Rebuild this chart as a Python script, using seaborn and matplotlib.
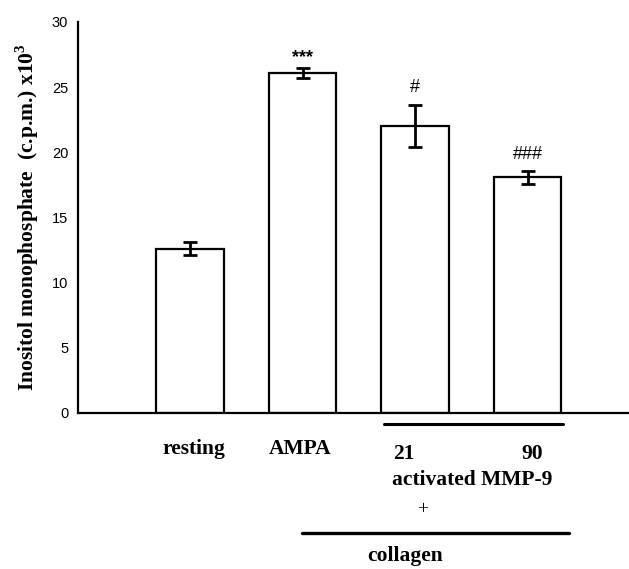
import matplotlib
matplotlib.use("Agg")
import matplotlib.pyplot as plt
import matplotlib.transforms as mtransforms
import seaborn as sns
import pandas as pd

categories = ["resting", "AMPA", "21", "90"]
values = [12.6, 26.1, 22.0, 18.1]
errors = [0.5, 0.4, 1.6, 0.5]
marks = ["", "***", "#", "###"]
mark_y = [0, 27.3, 25.0, 19.8]
yticks = [0, 5, 10, 15, 20, 25, 30]

sns.set_theme(style="white")
plt.rcParams["font.family"] = ["Liberation Sans", "DejaVu Sans"]
plt.rcParams["mathtext.fontset"] = "custom"
plt.rcParams["mathtext.rm"] = "Liberation Serif"
plt.rcParams["mathtext.bf"] = "Liberation Serif:bold"

df = pd.DataFrame({"group": categories, "value": values})

fig = plt.figure(figsize=(6.29, 5.69), dpi=100)
ax = fig.add_axes([0.124, 0.2742, 0.876, 0.6872])

sns.barplot(data=df, x="group", y="value", order=categories, color="white",
            edgecolor="black", linewidth=1.6, width=0.6, saturation=1,
            errorbar=None, ax=ax)
ax.errorbar(range(len(values)), values, yerr=errors, fmt="none",
            ecolor="black", elinewidth=2.0, capsize=4.7, capthick=2.0, zorder=5)

for i, (m, my) in enumerate(zip(marks, mark_y)):
    if m:
        ax.text(i, my, m, ha="center", va="center", fontsize=13,
                fontweight="bold" if m.startswith("*") else "normal",
                family=["Liberation Sans", "DejaVu Sans"], color="black")

ax.set_xlim(-0.996, 3.902)
ax.set_ylim(0, 30)
ax.set_yticks(yticks)
ax.set_yticklabels([str(t) for t in yticks], fontsize=10.5)
ax.tick_params(axis="y", direction="out", length=5, width=1.4, pad=2, colors="black")
ax.tick_params(axis="x", length=0, pad=19)
ax.set_xticks(range(len(categories)))
ax.set_xticklabels(categories, fontsize=15.5, fontweight="bold",
                   family="Liberation Serif", color="black")
offsets = [(4, 0), (-2, 0), (-11, -5), (5, -5)]
for lab, (dx, dy) in zip(ax.get_xticklabels(), offsets):
    lab.set_transform(lab.get_transform() +
                      mtransforms.ScaledTranslation(dx / 100, dy / 100, fig.dpi_scale_trans))

ax.set_xlabel("")
ax.set_ylabel(r"Inositol monophosphate  (c.p.m.) x10$^{\mathbf{3}}$", fontsize=15.5,
              fontweight="bold", family="Liberation Serif", color="black", labelpad=8)

for s in ["top", "right"]:
    ax.spines[s].set_visible(False)
for s in ["left", "bottom"]:
    ax.spines[s].set_linewidth(1.6)
    ax.spines[s].set_color("black")

trans = mtransforms.blended_transform_factory(ax.transData, ax.transAxes)
ax.plot([1.724, 3.316], [-0.028, -0.028], color="black", lw=2.2,
        transform=trans, clip_on=False)
ax.plot([0.996, 3.369], [-0.307, -0.307], color="black", lw=2.4,
        transform=trans, clip_on=False)
ax.text(2.507, -0.184, "activated MMP-9", transform=trans, ha="center", va="baseline",
        fontsize=15.5, fontweight="bold", family="Liberation Serif", color="black")
ax.text(2.07, -0.248, "+", transform=trans, ha="center", va="center",
        fontsize=14, family="Liberation Serif", color="black")
ax.text(1.91, -0.379, "collagen", transform=trans, ha="center", va="baseline",
        fontsize=15.5, fontweight="bold", family="Liberation Serif", color="black")

fig.savefig("out.png", dpi=100)
